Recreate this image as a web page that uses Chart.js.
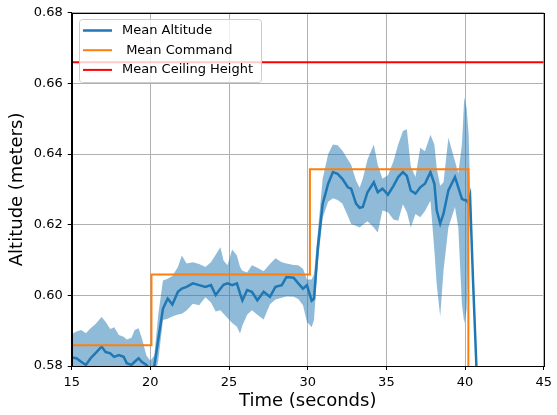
<!DOCTYPE html>
<html>
<head>
<meta charset="utf-8">
<script src="https://cdn.jsdelivr.net/npm/chart.js@4.4.1/dist/chart.umd.min.js"></script>
<style>
  html, body { margin: 0; padding: 0; background: #fff; }
</style>
</head>
<body>
<canvas id="chart" width="557" height="415"></canvas>
<script>
// altitude run, values
const time = [
  15.0, 15.3, 15.6, 15.9, 16.2, 16.5, 16.9, 17.15, 17.45, 17.7, 18.0, 18.3, 18.5, 18.8, 19.0, 19.25, 19.45, 19.75, 20.0, 20.25,
  20.5, 20.8, 21.1, 21.4, 21.75, 22.0, 22.3, 22.7, 23.1, 23.5, 23.85, 24.15, 24.45, 24.65, 24.9, 25.2, 25.5, 25.7, 25.85, 26.15,
  26.45, 26.8, 27.2, 27.6, 27.95, 28.35, 28.65, 29.1, 29.4, 29.7, 29.95, 30.25, 30.4,
  30.65, 30.95, 31.3, 31.6, 31.9, 32.2, 32.55, 32.76, 33.07, 33.3, 33.5, 33.8, 34.2, 34.45, 34.75, 35.1, 35.45, 35.75, 36.05, 36.3,
  36.55, 36.85, 37.15, 37.45, 37.8, 38.05, 38.2, 38.42, 38.63, 38.94, 39.36, 39.57, 39.8, 39.95, 40.1, 40.23, 40.32, 40.5, 40.72, 40.85,
];
const meanAlt = [
  0.5824, 0.5822, 0.5812, 0.5803, 0.5822, 0.5836, 0.5855, 0.5840, 0.5836, 0.5826, 0.5831, 0.5826, 0.5808, 0.5803, 0.5812, 0.5822, 0.5812, 0.5803, 0.5789, 0.5800,
  0.5875, 0.5962, 0.5991, 0.5974, 0.6010, 0.6019, 0.6024, 0.6034, 0.6029, 0.6024, 0.6029, 0.6001, 0.6019, 0.6030, 0.6034, 0.6029, 0.6034, 0.6005, 0.5986, 0.6015,
  0.6010, 0.5986, 0.6010, 0.5996, 0.6024, 0.6029, 0.6052, 0.6050, 0.6034, 0.6019, 0.6029, 0.5985, 0.5991,
  0.6137, 0.6259, 0.6316, 0.6349, 0.6344, 0.6330, 0.6306, 0.6302, 0.6260, 0.6248, 0.6250, 0.6292, 0.6320, 0.6292, 0.6302, 0.6285, 0.6310, 0.6335, 0.6349, 0.6338,
  0.6297, 0.6288, 0.6306, 0.6316, 0.6349, 0.6316, 0.6241, 0.6203, 0.6231, 0.6297, 0.6335, 0.6306, 0.6273, 0.6270, 0.6269, 0.6259, 0.6278, 0.6050, 0.5800, 0.5650,
];
const upperAlt = [
  0.5890, 0.5898, 0.5902, 0.5893, 0.5907, 0.5918, 0.5939, 0.5925, 0.5905, 0.5910, 0.5888, 0.5883, 0.5875, 0.5880, 0.5902, 0.5907, 0.5880, 0.5830, 0.5815, 0.5830,
  0.5945, 0.6042, 0.6047, 0.6055, 0.6080, 0.6113, 0.6090, 0.6094, 0.6089, 0.6080, 0.6094, 0.6115, 0.6136, 0.6099, 0.6085, 0.6130, 0.6113, 0.6080, 0.6070, 0.6065,
  0.6085, 0.6078, 0.6068, 0.6089, 0.6105, 0.6094, 0.6090, 0.6086, 0.6085, 0.6075, 0.6045, 0.6045, 0.6060,
  0.6183, 0.6330, 0.6400, 0.6427, 0.6425, 0.6410, 0.6385, 0.6370, 0.6325, 0.6305, 0.6330, 0.6385, 0.6427, 0.6370, 0.6330, 0.6340, 0.6380, 0.6427, 0.6465, 0.6470,
  0.6365, 0.6335, 0.6418, 0.6408, 0.6455, 0.6427, 0.6360, 0.6310, 0.6320, 0.6446, 0.6380, 0.6345, 0.6427, 0.6560, 0.6530, 0.6455, 0.6300, 0.6070, 0.5820, 0.5670,
];
const lowerAlt = [
  0.5775, 0.5772, 0.5765, 0.5755, 0.5770, 0.5785, 0.5800, 0.5790, 0.5785, 0.5778, 0.5780, 0.5775, 0.5760, 0.5755, 0.5765, 0.5772, 0.5762, 0.5760, 0.5755, 0.5765,
  0.5815, 0.5930, 0.5934, 0.5940, 0.5946, 0.5948, 0.5957, 0.5976, 0.5972, 0.5995, 0.5980, 0.5954, 0.5958, 0.5948, 0.5936, 0.5922, 0.5911, 0.5892, 0.5915, 0.5945,
  0.5958, 0.5945, 0.5932, 0.5975, 0.5988, 0.5993, 0.5997, 0.5996, 0.5990, 0.5972, 0.5925, 0.5910, 0.5930,
  0.6095, 0.6220, 0.6265, 0.6275, 0.6270, 0.6260, 0.6225, 0.6202, 0.6197, 0.6192, 0.6200, 0.6210, 0.6192, 0.6178, 0.6240, 0.6235, 0.6215, 0.6211, 0.6258, 0.6235,
  0.6192, 0.6230, 0.6221, 0.6239, 0.6268, 0.6127, 0.6030, 0.5940, 0.6070, 0.6192, 0.6250, 0.6192, 0.5975, 0.5920, 0.5960, 0.6136, 0.6255, 0.6030, 0.5780, 0.5630,
];

const cmdTime = [15, 20.07, 20.07, 30.14, 30.14, 40.21, 40.21];
const cmdValue = [0.5859, 0.5859, 0.6059, 0.6059, 0.6357, 0.6357, 0.56];

const ceilTime = [15, 45];
const ceilValue = [0.666, 0.666];

const xTicks = [15, 20, 25, 30, 35, 40, 45];
const yTicks = [0.58, 0.60, 0.62, 0.64, 0.66, 0.68];

const FONT = '"DejaVu Sans", sans-serif';
const pts = (xs, ys) => xs.map((x, i) => ({ x, y: ys[i] }));

// black box round the plot, like the mpl spines
const spines = {
  id: 'spines',
  afterDatasetsDraw(chart) {
    const { ctx, chartArea: a } = chart;
    ctx.save();
    ctx.strokeStyle = '#000';
    ctx.lineWidth = 1;
    ctx.strokeRect(Math.round(a.left) + 0.5, Math.round(a.top) + 0.5,
      Math.round(a.right - a.left), Math.round(a.bottom - a.top));
    ctx.restore();
  },
};

// legend sits inside the axes, upper left
const boxLegend = {
  id: 'boxLegend',
  afterDraw(chart) {
    const { ctx, chartArea: a } = chart;
    const items = chart.data.datasets.filter((d) => d.label);
    const x = Math.round(a.left) + 7;
    const y = Math.round(a.top) + 6;
    ctx.save();
    ctx.fillStyle = 'rgba(255,255,255,0.8)';
    ctx.strokeStyle = '#cccccc';
    ctx.lineWidth = 1;
    ctx.beginPath();
    ctx.roundRect(x + 0.5, y + 0.5, 182, 63, 3);
    ctx.fill();
    ctx.stroke();
    ctx.font = '13px ' + FONT;
    ctx.textBaseline = 'middle';
    items.forEach((d, i) => {
      const ry = y + 11.5 + i * 19.7;
      ctx.strokeStyle = d.borderColor;
      ctx.lineWidth = d.borderWidth;
      ctx.beginPath();
      ctx.moveTo(x + 4, ry);
      ctx.lineTo(x + 33, ry);
      ctx.stroke();
      ctx.fillStyle = '#000';
      ctx.fillText(d.label, x + 43, ry);
    });
    ctx.restore();
  },
};

const gridOpts = { color: '#b0b0b0', lineWidth: 1, tickLength: 4, tickColor: '#000', drawTicks: true };

new Chart(document.getElementById('chart').getContext('2d'), {
  type: 'line',
  data: {
    datasets: [
      {
        label: 'Mean Altitude',
        data: pts(time, meanAlt),
        borderColor: '#1f77b4',
        borderWidth: 2.5,
        pointRadius: 0,
        fill: false,
        order: 2,
      },
      {
        label: ' Mean Command',
        data: pts(cmdTime, cmdValue),
        borderColor: '#ff7f0e',
        borderWidth: 2,
        pointRadius: 0,
        fill: false,
        order: 1,
      },
      {
        label: 'Mean Ceiling Height',
        data: pts(ceilTime, ceilValue),
        borderColor: '#ff0000',
        borderWidth: 2,
        pointRadius: 0,
        fill: false,
        order: 0,
      },
      {
        data: pts(time, upperAlt),
        borderWidth: 0,
        borderColor: 'rgba(0,0,0,0)',
        backgroundColor: 'rgba(31,119,180,0.5)',
        pointRadius: 0,
        fill: '+1',
        order: 3,
      },
      {
        data: pts(time, lowerAlt),
        borderWidth: 0,
        borderColor: 'rgba(0,0,0,0)',
        pointRadius: 0,
        fill: false,
        order: 4,
      },
    ],
  },
  options: {
    responsive: false,
    animation: false,
    events: [],
    layout: { padding: { top: 11, right: 8.6, left: 0, bottom: 0 } },
    elements: { line: { tension: 0 } },
    scales: {
      x: {
        type: 'linear',
        min: 15,
        max: 45,
        afterBuildTicks: (s) => { s.ticks = xTicks.map((v) => ({ value: v })); },
        afterFit: (s) => { s.height = 49; },
        ticks: { font: { family: FONT, size: 13 }, color: '#000', padding: 5, maxRotation: 0 },
        grid: gridOpts,
        border: { color: '#000', width: 1 },
        title: {
          display: true,
          text: 'Time (seconds)',
          color: '#000',
          font: { family: FONT, size: 18 },
          padding: { top: 0, bottom: 3 },
        },
      },
      y: {
        min: 0.58,
        max: 0.68,
        afterBuildTicks: (s) => { s.ticks = yTicks.map((v) => ({ value: v })); },
        afterFit: (s) => { s.width = 71.7; },
        ticks: {
          font: { family: FONT, size: 13 },
          color: '#000',
          padding: 5,
          callback: (v) => Number(v).toFixed(2),
        },
        grid: gridOpts,
        border: { color: '#000', width: 1 },
        title: {
          display: true,
          text: 'Altitude (meters)',
          color: '#000',
          font: { family: FONT, size: 18 },
          padding: { top: 7, bottom: 0 },
        },
      },
    },
    plugins: {
      legend: { display: false },
      tooltip: { enabled: false },
    },
  },
  plugins: [spines, boxLegend],
});
</script>
</body>
</html>
